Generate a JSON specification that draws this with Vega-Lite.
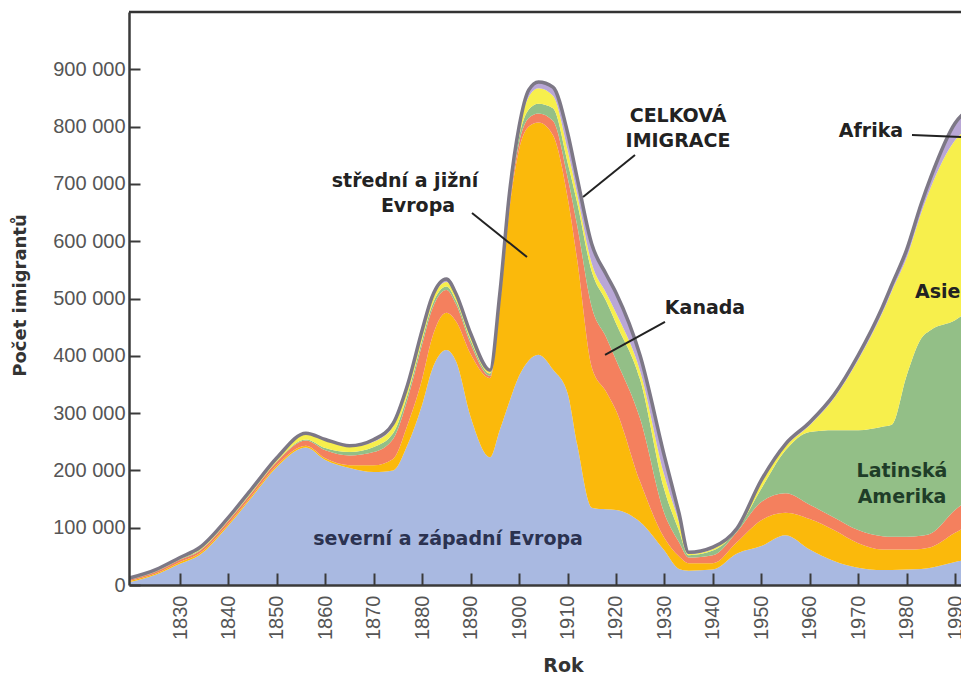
{
  "$schema": "https://vega.github.io/schema/vega-lite/v6.json",
  "width": 832,
  "height": 573,
  "autosize": {"type": "none"},
  "padding": {"left": 129, "top": 12, "right": 0, "bottom": 90},
  "background": "#ffffff",
  "config": {
    "locale": {"number": {"decimal": ",", "thousands": " ", "grouping": [3], "currency": ["", " Kč"]}},
    "view": {"stroke": null},
    "axis": {"grid": false}
  },
  "datasets": {
    "imigrace": [
      {"rok": 1819, "sz": 4000, "sj": 2000, "kan": 2000, "lat": 1000, "asie": 1000, "afr": 1000},
      {"rok": 1825, "sz": 18000, "sj": 2000, "kan": 3000, "lat": 1000, "asie": 2000, "afr": 1000},
      {"rok": 1830, "sz": 37000, "sj": 3000, "kan": 4000, "lat": 1000, "asie": 2000, "afr": 1000},
      {"rok": 1834, "sz": 52000, "sj": 3000, "kan": 4000, "lat": 1000, "asie": 3000, "afr": 2000},
      {"rok": 1840, "sz": 104000, "sj": 3000, "kan": 5000, "lat": 1000, "asie": 3000, "afr": 2000},
      {"rok": 1845, "sz": 155000, "sj": 3000, "kan": 5000, "lat": 1000, "asie": 4000, "afr": 2000},
      {"rok": 1850, "sz": 206000, "sj": 3000, "kan": 6000, "lat": 1000, "asie": 5000, "afr": 1000},
      {"rok": 1856, "sz": 240000, "sj": 3000, "kan": 9000, "lat": 2000, "asie": 9000, "afr": 2000},
      {"rok": 1860, "sz": 218000, "sj": 3000, "kan": 14000, "lat": 4000, "asie": 13000, "afr": 2000},
      {"rok": 1865, "sz": 204000, "sj": 5000, "kan": 17000, "lat": 6000, "asie": 9000, "afr": 2000},
      {"rok": 1870, "sz": 197000, "sj": 12000, "kan": 23000, "lat": 9000, "asie": 9000, "afr": 4000},
      {"rok": 1874, "sz": 200000, "sj": 20000, "kan": 35000, "lat": 10000, "asie": 12000, "afr": 5000},
      {"rok": 1877, "sz": 245000, "sj": 35000, "kan": 45000, "lat": 8000, "asie": 12000, "afr": 5000},
      {"rok": 1880, "sz": 315000, "sj": 45000, "kan": 60000, "lat": 8000, "asie": 12000, "afr": 5000},
      {"rok": 1882, "sz": 375000, "sj": 55000, "kan": 50000, "lat": 7000, "asie": 10000, "afr": 5000},
      {"rok": 1885, "sz": 410000, "sj": 65000, "kan": 40000, "lat": 6000, "asie": 8000, "afr": 5000},
      {"rok": 1887, "sz": 390000, "sj": 70000, "kan": 30000, "lat": 6000, "asie": 8000, "afr": 4000},
      {"rok": 1890, "sz": 293000, "sj": 110000, "kan": 18000, "lat": 6000, "asie": 8000, "afr": 4000},
      {"rok": 1894, "sz": 223000, "sj": 138000, "kan": 4000, "lat": 4000, "asie": 4000, "afr": 2000},
      {"rok": 1896, "sz": 270000, "sj": 215000, "kan": 6000, "lat": 6000, "asie": 7000, "afr": 3000},
      {"rok": 1898, "sz": 320000, "sj": 335000, "kan": 8000, "lat": 7000, "asie": 9000, "afr": 4000},
      {"rok": 1900, "sz": 365000, "sj": 395000, "kan": 12000, "lat": 10000, "asie": 12000, "afr": 6000},
      {"rok": 1902, "sz": 392000, "sj": 408000, "kan": 15000, "lat": 15000, "asie": 22000, "afr": 12000},
      {"rok": 1904, "sz": 402000, "sj": 405000, "kan": 16000, "lat": 17000, "asie": 27000, "afr": 11000},
      {"rok": 1907, "sz": 376000, "sj": 409000, "kan": 25000, "lat": 22000, "asie": 22000, "afr": 15000},
      {"rok": 1910, "sz": 335000, "sj": 342000, "kan": 35000, "lat": 26000, "asie": 22000, "afr": 30000},
      {"rok": 1912, "sz": 245000, "sj": 322000, "kan": 60000, "lat": 40000, "asie": 15000, "afr": 28000},
      {"rok": 1915, "sz": 135000, "sj": 245000, "kan": 105000, "lat": 62000, "asie": 14000, "afr": 34000},
      {"rok": 1918, "sz": 132000, "sj": 205000, "kan": 95000, "lat": 63000, "asie": 14000, "afr": 33000},
      {"rok": 1920, "sz": 131000, "sj": 174000, "kan": 88000, "lat": 64000, "asie": 18000, "afr": 35000},
      {"rok": 1925, "sz": 110000, "sj": 70000, "kan": 110000, "lat": 68000, "asie": 15000, "afr": 27000},
      {"rok": 1930, "sz": 60000, "sj": 22000, "kan": 43000, "lat": 41000, "asie": 25000, "afr": 34000},
      {"rok": 1933, "sz": 28000, "sj": 22000, "kan": 25000, "lat": 20000, "asie": 15000, "afr": 16000},
      {"rok": 1935, "sz": 25000, "sj": 13000, "kan": 10000, "lat": 4000, "asie": 2000, "afr": 3000},
      {"rok": 1940, "sz": 27000, "sj": 11000, "kan": 14000, "lat": 8000, "asie": 3000, "afr": 3000},
      {"rok": 1945, "sz": 55000, "sj": 20000, "kan": 18000, "lat": 3000, "asie": 2000, "afr": 1000},
      {"rok": 1950, "sz": 68000, "sj": 45000, "kan": 32000, "lat": 23000, "asie": 10000, "afr": 5000},
      {"rok": 1955, "sz": 87000, "sj": 39000, "kan": 34000, "lat": 75000, "asie": 7000, "afr": 4000},
      {"rok": 1960, "sz": 62000, "sj": 53000, "kan": 25000, "lat": 127000, "asie": 12000, "afr": 5000},
      {"rok": 1965, "sz": 42000, "sj": 54000, "kan": 22000, "lat": 152000, "asie": 56000, "afr": 6000},
      {"rok": 1970, "sz": 30000, "sj": 43000, "kan": 23000, "lat": 174000, "asie": 123000, "afr": 8000},
      {"rok": 1975, "sz": 26000, "sj": 36000, "kan": 23000, "lat": 191000, "asie": 199000, "afr": 10000},
      {"rok": 1977, "sz": 26000, "sj": 36000, "kan": 22000, "lat": 196000, "asie": 234000, "afr": 11000},
      {"rok": 1980, "sz": 27000, "sj": 35000, "kan": 22000, "lat": 281000, "asie": 206000, "afr": 14000},
      {"rok": 1983, "sz": 28000, "sj": 35000, "kan": 23000, "lat": 344000, "asie": 219000, "afr": 16000},
      {"rok": 1985, "sz": 30000, "sj": 36000, "kan": 24000, "lat": 355000, "asie": 249000, "afr": 18000},
      {"rok": 1990, "sz": 40000, "sj": 51000, "kan": 40000, "lat": 331000, "asie": 314000, "afr": 30000},
      {"rok": 1993, "sz": 45000, "sj": 60000, "kan": 45000, "lat": 330000, "asie": 320000, "afr": 32000}
    ],
    "oblasti": [
      {"klic": "sz", "poradi": 1},
      {"klic": "sj", "poradi": 2},
      {"klic": "kan", "poradi": 3},
      {"klic": "lat", "poradi": 4},
      {"klic": "asie", "poradi": 5},
      {"klic": "afr", "poradi": 6}
    ],
    "popisky": [
      {"rok": 1885.33, "pocet": 69800, "text": "severní a západní Evropa"},
      {"rok": 1876.45, "pocet": 694600, "text": "střední a jižní"},
      {"rok": 1879.13, "pocet": 651000, "text": "Evropa"},
      {"rok": 1932.81, "pocet": 808000, "text": "CELKOVÁ"},
      {"rok": 1932.81, "pocet": 764400, "text": "IMIGRACE"},
      {"rok": 1938.38, "pocet": 473000, "text": "Kanada"},
      {"rok": 1972.65, "pocet": 781900, "text": "Afrika"},
      {"rok": 1986.43, "pocet": 500900, "text": "Asie"},
      {"rok": 1979.05, "pocet": 188500, "text": "Latinská"},
      {"rok": 1979.05, "pocet": 143100, "text": "Amerika"}
    ],
    "sipky": [
      {"rok": 1890.28, "pocet": 649200, "rok2": 1901.63, "pocet2": 572400},
      {"rok": 1923.93, "pocet": 750400, "rok2": 1913.2, "pocet2": 677100},
      {"rok": 1930.12, "pocet": 459000, "rok2": 1917.74, "pocet2": 401400},
      {"rok": 1981.11, "pocet": 785300, "rok2": 1991.5, "pocet2": 781800}
    ]
  },
  "layer": [
    {
      "data": {"name": "imigrace"},
      "transform": [
        {"fold": ["sz", "sj", "kan", "lat", "asie", "afr"], "as": ["klic", "pocet"]},
        {"lookup": "klic", "from": {"data": {"name": "oblasti"}, "key": "klic", "fields": ["poradi"]}}
      ],
      "mark": {"type": "area", "interpolate": "monotone", "clip": true},
      "encoding": {
        "x": {
          "field": "rok", "type": "quantitative",
          "scale": {"domain": [1819.47, 1991.23], "nice": false, "zero": false},
          "axis": {
            "values": [1830, 1840, 1850, 1860, 1870, 1880, 1890, 1900, 1910, 1920, 1930, 1940, 1950, 1960, 1970, 1980, 1990],
            "format": "d",
            "labelAngle": -90,
            "labelFont": "Liberation Sans", "labelFontSize": 20, "labelColor": "#555555",
            "labelPadding": 22, "labelFlush": false, "labelOverlap": false, "labelBound": false,
            "tickSize": -12, "tickWidth": 2, "tickColor": "#3a3a3a",
            "domainColor": "#3a3a3a", "domainWidth": 2.5,
            "zindex": 1,
            "title": "Rok", "titleFont": "DejaVu Sans", "titleFontWeight": "bold", "titleFontSize": 19, "titleColor": "#333333",
            "titleX": 434, "titleY": 86, "titleAlign": "center", "titleBaseline": "alphabetic"
          }
        },
        "y": {
          "field": "pocet", "type": "quantitative", "stack": "zero",
          "scale": {"domain": [0, 1000000], "nice": false},
          "axis": {
            "values": [0, 100000, 200000, 300000, 400000, 500000, 600000, 700000, 800000, 900000],
            "format": ",d",
            "labelFont": "Liberation Sans", "labelFontSize": 20, "labelColor": "#555555",
            "labelPadding": 15, "labelFlush": false, "labelOverlap": false, "labelBound": false,
            "tickSize": -11, "tickWidth": 2, "tickColor": "#3a3a3a",
            "domainColor": "#3a3a3a", "domainWidth": 2.5,
            "zindex": 1,
            "title": "Počet imigrantů", "titleFont": "DejaVu Sans", "titleFontWeight": "bold", "titleFontSize": 18, "titleColor": "#333333",
            "titleAngle": -90, "titleX": -109, "titleY": 283, "titleAlign": "center", "titleBaseline": "middle"
          }
        },
        "color": {
          "field": "klic", "type": "nominal", "legend": null,
          "scale": {"domain": ["sz", "sj", "kan", "lat", "asie", "afr"], "range": ["#a9b9e1", "#fbb90b", "#f4805e", "#93bf87", "#f7ef4c", "#b9a7d6"]}
        },
        "order": {"field": "poradi", "type": "quantitative"}
      }
    },
    {
      "data": {"name": "imigrace"},
      "transform": [
        {"fold": ["sz", "sj", "kan", "lat", "asie", "afr"], "as": ["klic", "pocet"]},
        {"aggregate": [{"op": "sum", "field": "pocet", "as": "pocet"}], "groupby": ["rok"]}
      ],
      "mark": {"type": "line", "interpolate": "monotone", "clip": true, "color": "#7d7886", "strokeWidth": 3.5},
      "encoding": {
        "x": {"field": "rok", "type": "quantitative"},
        "y": {"field": "pocet", "type": "quantitative"}
      }
    },
    {
      "data": {"values": [{"pocet": 1000000}]},
      "mark": {"type": "rule", "color": "#333333", "strokeWidth": 2.5},
      "encoding": {"y": {"field": "pocet", "type": "quantitative"}}
    },
    {
      "data": {"name": "sipky"},
      "mark": {"type": "rule", "color": "#222222", "strokeWidth": 2, "clip": true},
      "encoding": {
        "x": {"field": "rok", "type": "quantitative"},
        "x2": {"field": "rok2"},
        "y": {"field": "pocet", "type": "quantitative"},
        "y2": {"field": "pocet2"}
      }
    },
    {
      "data": {"name": "popisky"},
      "transform": [{"filter": {"field": "text", "oneOf": ["střední a jižní", "Evropa", "CELKOVÁ", "IMIGRACE", "Kanada", "Afrika", "Asie"]}}],
      "mark": {"type": "text", "font": "DejaVu Sans", "fontWeight": "bold", "fontSize": 19, "color": "#222222", "align": "center", "baseline": "alphabetic"},
      "encoding": {
        "x": {"field": "rok", "type": "quantitative"},
        "y": {"field": "pocet", "type": "quantitative"},
        "text": {"field": "text"}
      }
    },
    {
      "data": {"name": "popisky"},
      "transform": [{"filter": {"field": "text", "equal": "severní a západní Evropa"}}],
      "mark": {"type": "text", "font": "DejaVu Sans", "fontWeight": "bold", "fontSize": 19, "color": "#2b3250", "align": "center", "baseline": "alphabetic"},
      "encoding": {
        "x": {"field": "rok", "type": "quantitative"},
        "y": {"field": "pocet", "type": "quantitative"},
        "text": {"field": "text"}
      }
    },
    {
      "data": {"name": "popisky"},
      "transform": [{"filter": {"field": "text", "oneOf": ["Latinská", "Amerika"]}}],
      "mark": {"type": "text", "font": "DejaVu Sans", "fontWeight": "bold", "fontSize": 19, "color": "#1f3d28", "align": "center", "baseline": "alphabetic"},
      "encoding": {
        "x": {"field": "rok", "type": "quantitative"},
        "y": {"field": "pocet", "type": "quantitative"},
        "text": {"field": "text"}
      }
    }
  ]
}
